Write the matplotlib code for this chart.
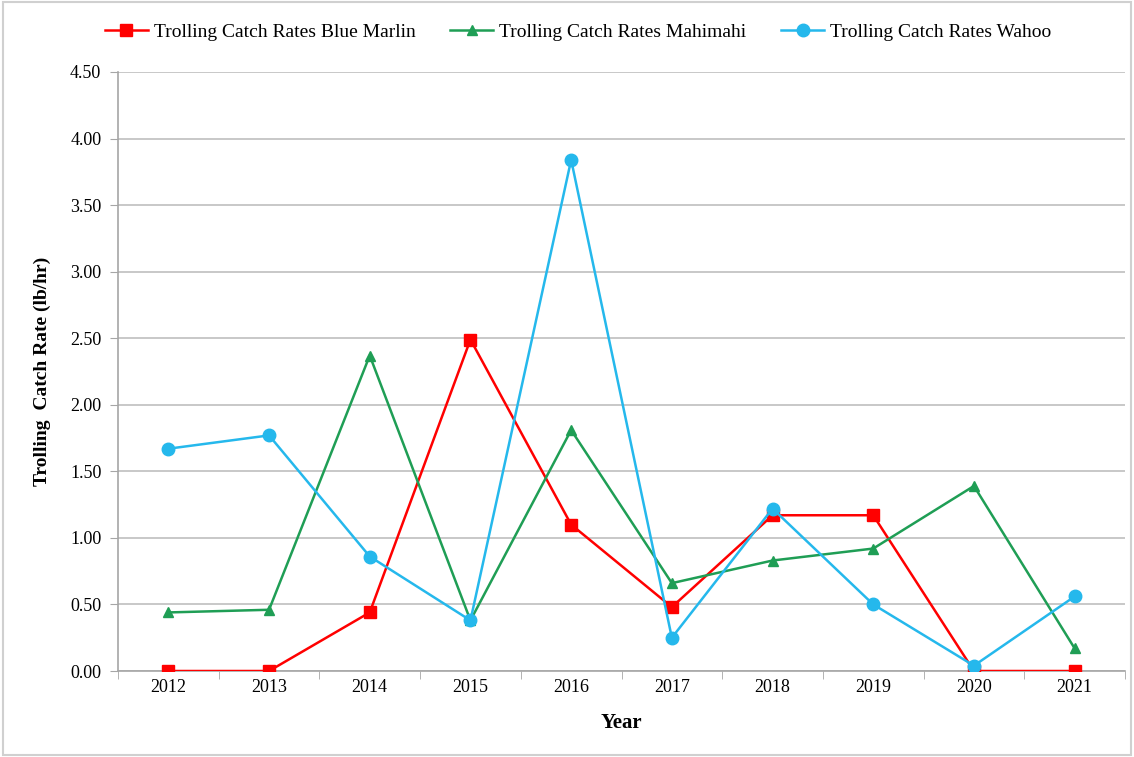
import matplotlib.pyplot as plt
import numpy as np

plt.rcParams['font.family'] = ['Liberation Serif', 'DejaVu Serif']

years = ['2012', '2013', '2014', '2015', '2016', '2017', '2018', '2019', '2020', '2021']
blue_marlin = [0.00, 0.00, 0.44, 2.49, 1.10, 0.48, 1.17, 1.17, 0.00, 0.00]
mahimahi = [0.44, 0.46, 2.37, 0.38, 1.81, 0.66, 0.83, 0.92, 1.39, 0.17]
wahoo = [1.67, 1.77, 0.86, 0.38, 3.84, 0.25, 1.22, 0.50, 0.04, 0.56]

fig = plt.figure(figsize=(11.34, 7.57), dpi=100)
ax = fig.add_axes([118 / 1134, 1 - 671 / 757, (1125 - 118) / 1134, (671 - 72) / 757])

x = np.arange(len(years))
ax.plot(x, blue_marlin, color='#FF0000', marker='s', markersize=8, linewidth=1.8,
        label='Trolling Catch Rates Blue Marlin', zorder=3)
ax.plot(x, mahimahi, color='#1F9E55', marker='^', markersize=7, linewidth=1.8,
        label='Trolling Catch Rates Mahimahi', zorder=3)
ax.plot(x, wahoo, color='#25B8EC', marker='o', markersize=9, linewidth=1.8,
        label='Trolling Catch Rates Wahoo', zorder=3)

ax.set_xlim(-0.5, len(years) - 0.5)
ax.set_ylim(0, 4.5)
ax.set_yticks(np.arange(0, 4.51, 0.5))
ax.set_yticklabels([f'{v:.2f}' for v in np.arange(0, 4.51, 0.5)], fontsize=13)
ax.set_xticks(x)
ax.set_xticklabels(years, fontsize=13)
ax.set_xticks(np.arange(-0.5, len(years), 1.0), minor=True)
ax.tick_params(axis='x', which='major', length=0, pad=6)
ax.tick_params(axis='x', which='minor', length=6, color='#A6A6A6')
ax.tick_params(axis='y', length=6, color='#A6A6A6', pad=6)

ax.grid(axis='y', color='#BFBFBF', linewidth=1.2)
ax.set_axisbelow(True)
for side in ['top', 'right']:
    ax.spines[side].set_visible(False)
for side in ['left', 'bottom']:
    ax.spines[side].set_color('#A6A6A6')
    ax.spines[side].set_linewidth(1.2)

ax.set_xlabel('Year', fontsize=15, fontweight='bold', labelpad=12)
ax.set_ylabel('Trolling  Catch Rate (lb/hr)', fontsize=14, fontweight='bold', labelpad=14)

fig.legend(loc='center', bbox_to_anchor=(578 / 1134, 1 - 32 / 757), ncol=3, frameon=False,
           fontsize=14, handlelength=2.2, columnspacing=1.8, handletextpad=0.3)

border = plt.Rectangle((0.003, 0.003), 0.994, 0.994, transform=fig.transFigure,
                       fill=False, edgecolor='#D0D0D0', linewidth=1.5)
fig.patches.append(border)

fig.savefig('out.png', dpi=100)
